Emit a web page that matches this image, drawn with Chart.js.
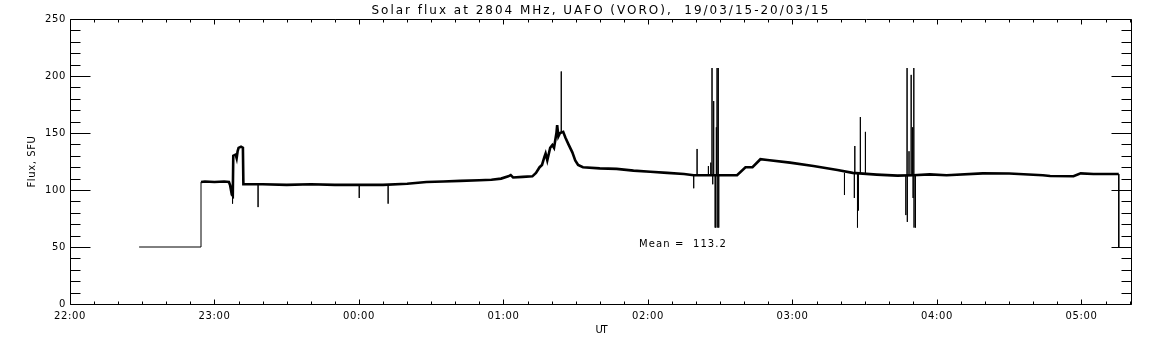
<!DOCTYPE html>
<html lang="en">
<head>
  <meta charset="UTF-8">
  <title>Solar flux at 2804 MHz</title>
  <script src="https://cdn.jsdelivr.net/npm/chart.js"></script>
  <style>
    html, body { margin: 0; padding: 0; background: #fff; }
    .chart-box { width: 1152px; height: 345px; position: relative; }
  </style>
</head>
<body>
<div class="chart-box">
  <canvas id="fluxChart"></canvas>
</div>

<script>
  // time in minutes after 22:00 UT, flux in SFU (the noisy trace, drawn thick)
  var traceMinutes = [54.4, 56, 60, 64, 66, 66.5, 67.2, 67.6, 67.8, 68.8, 69.2, 69.6, 70, 71, 71.8, 72,
    80, 90, 100, 110, 120, 130, 140, 148, 155, 162, 170, 175, 179, 182, 183, 184, 188, 192,
    193.5, 195, 196, 197, 197.5, 198.2, 199.4, 200.3, 201, 202, 202.3, 202.8, 203.5, 204.8, 205.7,
    207, 208.6, 209.8, 211, 213, 220, 227, 234, 241, 248, 255, 259, 270, 277, 280.5, 283.4,
    286.7, 289.6, 299, 308.7, 318.7, 325, 335, 343.6, 350, 357, 364, 379, 390, 404, 407,
    416.7, 419.7, 425, 435.5];
  var traceFlux = [107, 107.5, 107, 107.5, 107, 104, 96, 95, 130, 131, 128, 134, 137, 138, 137, 105,
    105, 104.5, 105, 104.5, 104.5, 104.5, 105.5, 107, 107.5, 108, 108.5, 109, 110, 112, 113, 111, 111.5, 112,
    115, 120, 122, 129, 132, 126, 137, 139.5, 137, 150, 157, 147, 150, 151, 146,
    140, 133, 126, 122, 120, 119, 118.5, 117, 116, 115, 114, 113, 113, 113, 120, 120,
    127, 126.3, 124, 121, 117.5, 115, 113.5, 112.6, 113, 113.7, 113, 114.6, 114.5, 113, 112.3,
    112, 114.6, 114, 114];

  // 50 SFU level before the record starts and after it ends (thin line)
  var startMinutes = [28.7, 54.4, 54.4];
  var startFlux = [50, 50, 107];
  var endMinutes = [435.5, 435.5];
  var endFlux = [114, 50];

  // single-sample spikes: time, level around it, spike value
  var spikeMinutes = [67.5, 78.1, 120.1, 132.1, 204.0, 259.0, 260.4, 265.1, 266.1, 266.6, 266.9, 267.3,
    267.9, 268.2, 268.4, 268.7, 269.0, 269.2, 269.4, 321.6, 325.7, 325.9, 327.0, 327.4, 328.2, 330.3,
    347.1, 347.6, 347.7, 348.4, 349.3, 349.9, 350.1, 350.4, 350.5, 351.1];
  var spikeBase = [95, 105, 104.5, 104.5, 150, 113, 113, 113, 113, 113, 113, 113,
    113, 113, 113, 113, 113, 113, 113, 115, 115, 115, 114, 114, 114, 114,
    113, 113, 113, 113, 113, 113, 113, 113, 113, 113];
  var spikePeak = [88, 85, 93, 88, 204, 101.5, 136, 121, 124, 207, 105, 178,
    67, 67, 155, 207, 67, 207, 67, 95.6, 93, 138.6, 67, 82, 164, 151,
    78, 207, 72, 134, 201, 155, 93, 207, 67, 67];

  var xTickMinutes = [0, 60, 120, 180, 240, 300, 360, 420];
  var xTickLabels = ['22:00', '23:00', '00:00', '01:00', '02:00', '03:00', '04:00', '05:00'];
  var meanFlux = 113.2;
  var titleText = 'Solar flux at 2804 MHz, UAFO (VORO),  19/03/15-20/03/15';

  var tracePoints = traceMinutes.map(function(t, i) { return {x: t, y: traceFlux[i]}; });

  var thinPoints = [];
  startMinutes.forEach(function(t, i) { thinPoints.push({x: t, y: startFlux[i]}); });
  thinPoints.push({x: 54.5, y: null});
  spikeMinutes.forEach(function(t, i) {
    thinPoints.push({x: t, y: spikeBase[i]});
    thinPoints.push({x: t, y: spikePeak[i]});
    thinPoints.push({x: t, y: spikeBase[i]});
    thinPoints.push({x: t + 0.01, y: null});
  });
  endMinutes.forEach(function(t, i) { thinPoints.push({x: t, y: endFlux[i]}); });

  // squeeze/stretch a string to a given pixel width, like the IDL vector font
  function fitText(ctx, text, x, y, width) {
    ctx.letterSpacing = '0px';
    var w = ctx.measureText(text).width;
    var sp = (width - w) / text.length;
    ctx.letterSpacing = sp.toFixed(2) + 'px';
    ctx.textAlign = 'left';
    ctx.fillText(text, x - width / 2, y);
  }

  var idlFrame = {
    id: 'idlFrame',
    beforeDraw: function(chart) {
      chart.ctx.letterSpacing = '0.6px';
    },
    afterDraw: function(chart) {
      var ctx = chart.ctx;
      var a = chart.chartArea;
      var xs = chart.scales.x, ys = chart.scales.y;
      var L = Math.round(a.left) + 0.5, R = Math.round(a.right) - 0.5;
      var T = Math.round(a.top) + 0.5, B = Math.round(a.bottom) + 0.5;

      ctx.save();
      ctx.strokeStyle = '#000';
      ctx.lineWidth = 1;
      ctx.beginPath();
      ctx.rect(L, T, R - L, B - T);
      for (var v = 0; v <= 250; v += 10) {
        var y = Math.round(ys.getPixelForValue(v)) + 0.5;
        var len = v % 50 === 0 ? 20 : 10;
        ctx.moveTo(L, y); ctx.lineTo(L + len, y);
        ctx.moveTo(R, y); ctx.lineTo(R - len, y);
      }
      for (var t = 0; t <= xs.max; t += 10) {
        var x = Math.round(xs.getPixelForValue(t)) + 0.5;
        var len2 = t % 60 === 0 ? 5 : 3;
        ctx.moveTo(x, B); ctx.lineTo(x, B - len2);
        ctx.moveTo(x, T); ctx.lineTo(x, T + len2);
      }
      ctx.stroke();

      ctx.fillStyle = '#000';
      ctx.textBaseline = 'alphabetic';
      ctx.font = '12px "DejaVu Sans"';
      fitText(ctx, titleText, (a.left + a.right) / 2, 13.5, 459);

      ctx.font = '10px "DejaVu Sans"';
      fitText(ctx, 'UT', (a.left + a.right) / 2, 333, 11);

      var mx = xs.getPixelForValue(236.3), my = ys.getPixelForValue(50);
      fitText(ctx, 'Mean =  ' + meanFlux.toFixed(1), mx + 44, my, 88);

      ctx.translate(35, (a.top + a.bottom) / 2);
      ctx.rotate(-Math.PI / 2);
      fitText(ctx, 'Flux, SFU', 0, 0, 52);
      ctx.restore();
    }
  };

  var ctx = document.getElementById('fluxChart').getContext('2d');
  var fluxChart = new Chart(ctx, {
    type: 'line',
    data: {
      datasets: [{
        data: tracePoints,
        borderColor: '#000',
        borderWidth: 2.6,
        pointRadius: 0,
        tension: 0
      }, {
        data: thinPoints,
        borderColor: '#000',
        borderWidth: 1,
        pointRadius: 0,
        tension: 0,
        spanGaps: false
      }]
    },
    options: {
      responsive: true,
      maintainAspectRatio: false,
      animation: false,
      layout: {
        padding: {top: 19, right: 20, left: 0, bottom: 0}
      },
      plugins: {
        legend: { display: false },
        title: { display: false },
        tooltip: { enabled: false }
      },
      scales: {
        x: {
          type: 'linear',
          min: 0,
          max: 441,
          grid: { display: false, drawTicks: false },
          border: { display: false },
          afterBuildTicks: function(scale) {
            scale.ticks = xTickMinutes.map(function(m) { return {value: m}; });
          },
          afterFit: function(scale) { scale.height = 41; },
          ticks: {
            color: '#000',
            font: { family: 'DejaVu Sans', size: 10 },
            padding: 6,
            maxRotation: 0,
            autoSkip: false,
            callback: function(value) {
              var i = xTickMinutes.indexOf(value);
              return i >= 0 ? xTickLabels[i] : '';
            }
          }
        },
        y: {
          min: 0,
          max: 250,
          grid: { display: false, drawTicks: false },
          border: { display: false },
          afterFit: function(scale) { scale.width = 70; },
          ticks: {
            stepSize: 50,
            color: '#000',
            font: { family: 'DejaVu Sans', size: 10 },
            padding: 4
          }
        }
      }
    },
    plugins: [idlFrame]
  });
</script>
</body>
</html>
